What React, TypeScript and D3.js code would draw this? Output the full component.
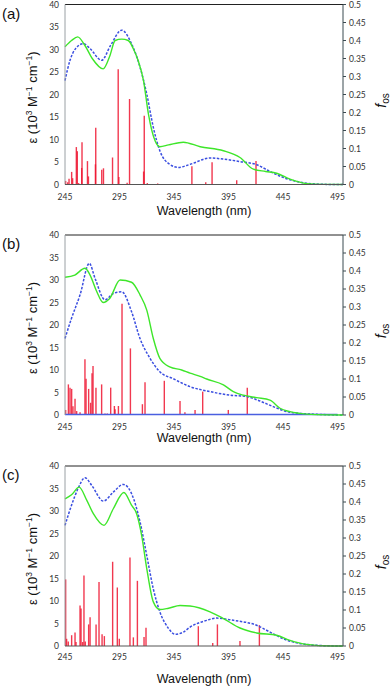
import React from "react";
import * as d3 from "d3";

// wavelength axis ticks and value axis ticks
const xTicks = [245, 295, 345, 395, 445, 495];
const epsTicks = [0, 5, 10, 15, 20, 25, 30, 35, 40];
const fosTicks = [0, 0.05, 0.1, 0.15, 0.2, 0.25, 0.3, 0.35, 0.4, 0.45, 0.5];

// panel (a)
const aExpLambda = [245, 251, 256.6, 263, 270, 280, 286, 291, 297, 303, 308, 312, 317, 321.5, 327.6, 332, 340, 353.5, 369, 390.3, 405.5, 417.8, 429, 439.2, 451.4, 466.7, 482, 500];
const aExpEps = [30.6, 32.0, 32.8, 31.0, 28.0, 25.7, 28.5, 32.0, 32.3, 32.0, 30.0, 27.6, 23.1, 15.7, 9.7, 8.4, 8.8, 9.4, 8.4, 7.5, 6.0, 3.4, 2.9, 2.5, 1.2, 0.2, 0.02, 0];
const aCalcLambda = [245, 249.6, 255, 261.8, 268, 278.6, 287, 297, 306, 313.8, 320, 326, 332, 341, 349, 360, 378, 390, 405.5, 420.8, 433, 445.3, 457.5, 472.6, 490, 500];
const aCalcEps = [23.1, 27.6, 30.3, 31.3, 30.2, 27.6, 31.0, 34.3, 31.3, 26.1, 20.1, 12.7, 7.5, 4.5, 3.8, 4.5, 5.9, 5.65, 5.1, 4.4, 2.9, 1.56, 0.67, 0.15, 0.01, 0];
const aStickLambda = [245.6, 247.5, 248.7, 251.1, 252, 255.4, 256.3, 257.5, 260.6, 260.3, 265.6, 266.5, 273.2, 272.9, 278.7, 280.3, 288.6, 293.8, 294.4, 302, 304.2, 317.7, 317.1, 320.5, 330, 361.4, 374.1, 379.9, 402.5, 420.2];
const aStickFos = [0.01, 0.006, 0.016, 0.035, 0.0175, 0.104, 0.0925, 0.004, 0.1175, 0.046, 0.065, 0.0225, 0.1575, 0.056, 0.041, 0.045, 0.075, 0.32, 0.021, 0.005, 0.2375, 0.191, 0.036, 0.004, 0.003, 0.051, 0.0065, 0.062, 0.012, 0.065];

// panel (b)
const bExpLambda = [245, 254, 263.3, 268, 274, 280, 286, 295.5, 306, 313.8, 320, 326, 332, 341, 352, 359.7, 369, 375, 390.3, 399.4, 408.6, 420.8, 433, 442.2, 451.4, 466.7, 485, 500];
const bExpEps = [30.6, 31.1, 32.6, 31.1, 27.5, 25.0, 25.9, 30.0, 29.5, 26.7, 23.3, 17.0, 12.6, 10.7, 10.0, 9.3, 8.6, 8.0, 6.7, 5.2, 4.4, 3.85, 3.3, 1.5, 0.74, 0.2, 0.02, 0];
const bCalcLambda = [245, 251, 258.8, 267.3, 272.5, 281.7, 289.3, 297, 306, 313.8, 323, 332, 344, 359.7, 378, 396.4, 411.7, 423.9, 436, 451.4, 476, 495, 500];
const bCalcEps = [17.0, 21.5, 26.7, 33.7, 30.4, 25.6, 27.0, 27.4, 23.0, 17.0, 12.6, 9.6, 8.1, 6.3, 5.2, 4.4, 4.1, 3.1, 1.85, 0.6, 0.15, 0.01, 0];
const bStickLambda = [245.6, 248.1, 249.6, 251.1, 252.3, 254.2, 255.7, 258.8, 263.3, 264.3, 266.7, 268.5, 269.8, 270.7, 273.4, 278.6, 281.7, 283.8, 286.9, 290.3, 290.9, 294, 297.3, 305, 316, 318.4, 336.1, 350.5, 355, 364.3, 371.3, 394.8, 412.2];
const bStickFos = [0.014, 0.085, 0.076, 0.0725, 0.024, 0.045, 0.011, 0.0075, 0.155, 0.101, 0.0725, 0.034, 0.116, 0.136, 0.076, 0.085, 0.004, 0.004, 0.076, 0.025, 0.016, 0.025, 0.309, 0.185, 0.03, 0.091, 0.095, 0.039, 0.0075, 0.014, 0.065, 0.014, 0.076];

// panel (c)
const cExpLambda = [245, 251, 258, 264.9, 271, 280.8, 289.3, 299, 306, 310.7, 315.3, 320, 326, 332, 340, 350.5, 359.7, 378, 390.3, 405.5, 420.8, 439.2, 451.4, 466.7, 490, 500];
const cExpEps = [32.7, 33.6, 35.3, 32.4, 29.4, 26.8, 30.5, 34.1, 31.3, 29.4, 24.6, 17.2, 9.8, 8.1, 8.4, 9.0, 8.9, 7.6, 6.1, 4.0, 2.9, 2.4, 1.26, 0.37, 0.01, 0];
const cCalcLambda = [245, 251, 257, 263.3, 269.5, 280.2, 289.3, 298.5, 306, 313.8, 320, 326, 332, 340, 346, 353.6, 359.7, 375, 384, 399.4, 420.8, 433, 445.3, 457.5, 476, 495, 500];
const cCalcEps = [26.8, 31.3, 35.0, 37.4, 35.7, 32.2, 34.2, 35.9, 33.9, 27.6, 20.1, 12.7, 7.6, 3.9, 2.6, 3.1, 4.2, 5.7, 6.2, 5.7, 4.6, 3.1, 1.6, 0.7, 0.15, 0.01, 0];
const cStickLambda = [245.6, 246.5, 248, 251.1, 254.2, 255.1, 258.8, 259.7, 261.2, 262.4, 263.6, 266.7, 268, 273.5, 276.2, 279, 281.1, 288.7, 293, 294.8, 304.6, 307.7, 311.4, 317.5, 319.3, 367.3, 380.5, 384.8, 405.5, 423.3];
const cStickFos = [0.185, 0.02, 0.0125, 0.03, 0.0375, 0.011, 0.1125, 0.104, 0.011, 0.196, 0.0125, 0.06, 0.08, 0.06, 0.1775, 0.0325, 0.0275, 0.234, 0.1625, 0.02, 0.246, 0.024, 0.181, 0.025, 0.051, 0.055, 0.008, 0.06, 0.014, 0.058];

const panels = [
  { tag: "(a)", top: 4.5, tickDy: 15, titleDy: 30, expL: aExpLambda, expE: aExpEps, calcL: aCalcLambda, calcE: aCalcEps, stL: aStickLambda, stF: aStickFos, blueBase: false },
  { tag: "(b)", top: 235, tickDy: 15, titleDy: 27, expL: bExpLambda, expE: bExpEps, calcL: bCalcLambda, calcE: bCalcEps, stL: bStickLambda, stF: bStickFos, blueBase: true },
  { tag: "(c)", top: 466, tickDy: 14, titleDy: 37, expL: cExpLambda, expE: cExpEps, calcL: cCalcLambda, calcE: cCalcEps, stL: cStickLambda, stF: cStickFos, blueBase: false },
];

const left = 65,
  right = 343,
  h = 180;
const tickFont = "Lato, 'Open Sans', sans-serif";
const titleFont = "'Liberation Sans', Arial, sans-serif";

function Panel({ p }: { p: any }) {
  const x = d3.scaleLinear().domain([245, 500]).range([left, right]);
  const y = d3.scaleLinear().domain([0, 40]).range([p.top + h, p.top]);
  const yf = d3.scaleLinear().domain([0, 0.5]).range([p.top + h, p.top]);

  const path = (ls: number[], es: number[]) =>
    d3
      .line<number>()
      .x((l) => x(l))
      .y((_, i) => y(es[i]))
      .curve(d3.curveMonotoneX)(ls) || "";

  const bottom = p.top + h;
  const fmt = (v: number) => (v === 0 ? "0" : String(+v.toFixed(2)));

  return (
    <g>
      <text x={2} y={p.top + 14} fontFamily={titleFont} fontSize={15} fill="#111">
        {p.tag}
      </text>

      {/* sticks */}
      {p.stL.map((l: number, i: number) => (
        <line key={"s" + i} x1={x(l)} x2={x(l)} y1={bottom} y2={yf(p.stF[i])} stroke="#ee1530" strokeWidth={1.4} strokeOpacity={0.85} />
      ))}

      {p.blueBase && <line x1={left} x2={x(495)} y1={bottom - 0.5} y2={bottom - 0.5} stroke="#4a5fe0" strokeWidth={1.6} />}

      {/* computed (blue dashed) and experimental (green) */}
      <path d={path(p.calcL, p.calcE)} fill="none" stroke="#3a4ee0" strokeWidth={1.5} strokeDasharray="2.5,1.5" />
      <path d={path(p.expL, p.expE)} fill="none" stroke="#3ee62a" strokeWidth={1.4} />

      {/* frame */}
      <line x1={left} x2={right} y1={p.top} y2={p.top} stroke="#222" strokeWidth={1} />
      <line x1={right} x2={right} y1={p.top} y2={bottom} stroke="#3b4a50" strokeWidth={1} />
      <line x1={left} x2={left} y1={p.top} y2={bottom} stroke="#9aa0a4" strokeWidth={1} />
      {!p.blueBase && <line x1={left} x2={right} y1={bottom} y2={bottom} stroke="#555" strokeWidth={1} />}

      {/* left axis */}
      {epsTicks.map((t) => (
        <text key={"e" + t} x={59} y={y(t) + 3} textAnchor="end" fontFamily={tickFont} fontSize={8.5} fill="#333">
          {t}
        </text>
      ))}
      {/* right axis */}
      {fosTicks.map((t) => (
        <g key={"f" + t}>
          <line x1={right} x2={right + 3} y1={yf(t)} y2={yf(t)} stroke="#3b4a50" />
          <text x={349} y={yf(t) + 3} fontFamily={tickFont} fontSize={8.5} fill="#333">
            {fmt(t)}
          </text>
        </g>
      ))}
      {/* bottom axis */}
      {xTicks.map((t) => (
        <text key={"x" + t} x={x(t)} y={bottom + p.tickDy} textAnchor="middle" fontFamily={tickFont} fontSize={8.5} fill="#333">
          {t}
        </text>
      ))}
      <text x={204} y={bottom + p.titleDy} textAnchor="middle" fontFamily={titleFont} fontSize={12.5} fill="#111">
        Wavelength (nm)
      </text>

      {/* axis titles */}
      <text transform={`translate(37,${p.top + h / 2 + 3}) rotate(-90)`} textAnchor="middle" fontFamily={titleFont} fontSize={13} fill="#111">
        ε (10<tspan fontSize={8.5} dy={-5}>3</tspan>
        <tspan dy={5}> M</tspan>
        <tspan fontSize={8.5} dy={-5}>−1</tspan>
        <tspan dy={5}> cm</tspan>
        <tspan fontSize={8.5} dy={-5}>−1</tspan>
        <tspan dy={5}>)</tspan>
      </text>
      <text transform={`translate(386,${p.top + 96}) rotate(-90)`} textAnchor="middle" fontFamily={titleFont} fontSize={14} fill="#111">
        <tspan fontStyle="italic">f</tspan>
        <tspan fontSize={10} dy={3}>os</tspan>
      </text>
    </g>
  );
}

export default function App() {
  return (
    <svg width={392} height={689} style={{ position: "absolute", left: 0, top: 0, background: "#fff" }}>
      {panels.map((p) => (
        <Panel key={p.tag} p={p} />
      ))}
    </svg>
  );
}
